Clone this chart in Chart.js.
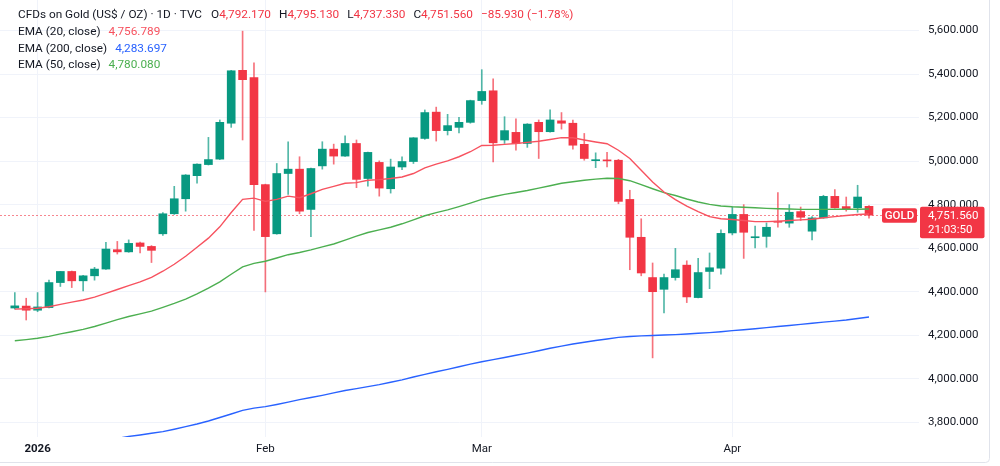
<!DOCTYPE html>
<html>
<head>
<meta charset="utf-8">
<script src="https://cdn.jsdelivr.net/npm/chart.js@4.4.1/dist/chart.umd.min.js"></script>
<style>
  html, body { margin: 0; padding: 0; background: #fff; }
  #wrap { width: 1000px; height: 466px; position: relative; }
</style>
</head>
<body>
<div id="wrap"><canvas id="grafico"></canvas></div>
<script>
// velas diarias (posicion = indice de la vela)
const openP = [4325,4334,4315,4327,4442,4493,4450,4473,4504,4593,
  4583,4624,4608,4666,4758,4827,4933,4984,5009,5174,
  5417,5384,4892,4666,4943,4963,4778,4978,5055,5023,
  5081,4920,4994,4873,4973,4998,5104,5225,5140,5155,
  5178,5278,5323,5097,5132,5081,5178,5135,5185,5174,
  5077,5002,5005,5004,4824,4650,4465,4411,4465,4522,
  4373,4493,4508,4670,4755,4648,4654,4722,4715,4768,
  4678,4739,4838,4791,4786,4792.17];
const highP = [4396,4370,4396,4453,4493,4495,4475,4512,4627,4631,
  4638,4628,4612,4763,4884,4938,4988,5109,5189,5417,
  5597,5451,4894,4989,5089,5020,4968,5089,5078,5116,
  5097,5042,5001,5009,5020,5108,5235,5248,5215,5201,
  5280,5420,5378,5204,5194,5172,5189,5235,5223,5189,
  5127,5038,5040,5008,4866,4735,4532,4481,4599,4542,
  4553,4578,4684,4789,4800,4701,4716,4855,4800,4789,
  4745,4843,4869,4835,4889,4795.13];
const lowP = [4320,4270,4308,4325,4424,4419,4404,4453,4502,4573,
  4581,4578,4534,4658,4755,4770,4899,4982,5007,5155,
  5097,4681,4399,4664,4847,4758,4653,4963,4986,5021,
  4878,4885,4839,4853,4961,4989,5100,5092,5120,5130,
  5174,5261,4996,5081,5050,5063,5012,5133,5147,5055,
  5004,4970,4973,4804,4501,4473,4096,4303,4453,4350,
  4371,4414,4481,4661,4553,4601,4604,4696,4696,4727,
  4638,4737,4784,4770,4765,4737.33];
const closeP = [4335,4315,4330,4442,4493,4450,4473,4504,4596,4583,
  4622,4608,4590,4758,4827,4936,4986,5007,5178,5415,
  5374,4892,4653,4943,4963,4770,4966,5055,5023,5081,
  4916,5040,4876,4973,4998,5107,5223,5140,5163,5178,
  5278,5320,5084,5140,5081,5170,5135,5189,5174,5073,
  5012,5005,5001,4815,4650,4486,4400,4465,4501,4376,
  4488,4510,4668,4755,4673,4652,4696,4719,4765,4742,
  4739,4838,4786,4781,4835,4751.56];

const ema20 = [4320,4322,4324,4331,4342,4352,4362,4375,4392,4410,
  4428,4445,4466,4494,4526,4563,4604,4646,4698,4764,
  4824,4830,4815,4824,4839,4832,4850,4870,4884,4898,
  4901,4912,4915,4920,4927,4943,4969,4986,5001,5020,
  5043,5072,5073,5077,5081,5086,5091,5099,5108,5107,
  5097,5088,5080,5050,5012,4958,4904,4858,4823,4793,
  4768,4745,4735,4732,4727,4722,4722,4724,4727,4730,
  4733,4740,4745,4750,4755,4756.789];
const ema50 = [4175,4180,4186,4195,4206,4216,4227,4240,4256,4272,
  4286,4298,4311,4328,4346,4366,4390,4416,4445,4480,
  4514,4530,4540,4555,4570,4580,4592,4606,4619,4637,
  4655,4672,4684,4696,4712,4730,4749,4763,4776,4791,
  4807,4824,4836,4847,4856,4865,4876,4887,4898,4905,
  4912,4917,4921,4920,4910,4892,4873,4855,4842,4826,
  4812,4801,4794,4790,4788,4786,4783,4781,4780,4778,
  4778,4778,4779,4779,4779,4780.080];
const ema200 = [null,null,null,null,null,null,null,null,3718,3726,
  3735,3742,3750,3757,3768,3780,3792,3806,3822,3838,
  3855,3865,3872,3882,3893,3904,3914,3924,3935,3946,
  3955,3964,3973,3984,3995,4008,4020,4032,4043,4055,
  4067,4078,4088,4098,4108,4118,4129,4140,4150,4160,
  4168,4176,4183,4190,4194,4197,4199,4201,4203,4206,
  4209,4212,4216,4221,4225,4230,4235,4240,4245,4250,
  4255,4260,4265,4270,4277,4283.697];

const monthLabels = ['2026', 'Feb', 'Mar', 'Apr'];
const monthIdx = [2, 22, 41, 63];
const yTicks = [3800, 4000, 4200, 4400, 4600, 4800, 5000, 5200, 5400, 5600];

const titulo = 'CFDs on Gold (US$ / OZ) · 1D · TVC';
const cambio = '\u221285.930 (\u22121.78%)';
const reloj = '21:03:50';

const VERDE = '#089981';
const ROJO = '#f23645';
const TEXTO = '#131722';
const FUENTE = 'Roboto, "Liberation Sans", sans-serif';

function fmt(v) {
  const partes = v.toFixed(3).split('.');
  return partes[0].replace(/\B(?=(\d{3})+(?!\d))/g, ',') + '.' + partes[1];
}

const last = closeP.length - 1;
const subida = closeP.map((c, i) => c >= openP[i]);

const overlay = {
  id: 'overlay',
  beforeDatasetsDraw(chart) {
    const {ctx, chartArea, scales: {y}} = chart;
    const py = Math.round(y.getPixelForValue(closeP[last])) + 0.5;
    ctx.save();
    ctx.strokeStyle = 'rgba(242,54,69,0.6)';
    ctx.lineWidth = 1;
    ctx.setLineDash([2, 2]);
    ctx.beginPath();
    ctx.moveTo(chartArea.left, py);
    ctx.lineTo(chartArea.right, py);
    ctx.stroke();
    ctx.restore();
  },
  afterDraw(chart) {
    const {ctx, scales: {y}} = chart;
    ctx.save();
    ctx.textBaseline = 'middle';
    ctx.font = '11.8px ' + FUENTE;

    // cabecera
    function tramos(x, yy, lista) {
      lista.forEach(([txt, col, gap]) => {
        ctx.fillStyle = col;
        ctx.fillText(txt, x, yy);
        x += ctx.measureText(txt).width + (gap || 0);
      });
    }
    tramos(18, 15, [
      [titulo, TEXTO, 9],
      ['O', TEXTO], [fmt(openP[last]), ROJO, 8],
      ['H', TEXTO], [fmt(highP[last]), ROJO, 8],
      ['L', TEXTO], [fmt(lowP[last]), ROJO, 8],
      ['C', TEXTO], [fmt(closeP[last]), ROJO, 8],
      [cambio, ROJO]
    ]);
    tramos(18, 32, [['EMA (20, close)', TEXTO, 8], [fmt(ema20[last]), '#f7525f']]);
    tramos(18, 49, [['EMA (200, close)', TEXTO, 8], [fmt(ema200[last]), '#2962ff']]);
    tramos(18, 65.5, [['EMA (50, close)', TEXTO, 8], [fmt(ema50[last]), '#4caf50']]);

    // etiquetas de precio
    const py = y.getPixelForValue(closeP[last]);
    ctx.fillStyle = ROJO;
    ctx.beginPath();
    ctx.roundRect(882, py - 7, 35, 14.5, 2);
    ctx.fill();
    ctx.beginPath();
    ctx.roundRect(920, py - 8.5, 64.5, 31.5, 2);
    ctx.fill();
    ctx.fillStyle = '#fff';
    ctx.textAlign = 'center';
    ctx.font = '500 11.5px ' + FUENTE;
    ctx.fillText('GOLD', 899.5, py + 0.5);
    ctx.textAlign = 'left';
    ctx.font = '11.5px ' + FUENTE;
    ctx.fillText(fmt(closeP[last]), 928, py + 0.5);
    ctx.fillText(reloj, 928, py + 14.5);

    // borde del panel
    ctx.strokeStyle = '#e0e3eb';
    ctx.lineWidth = 1;
    ctx.beginPath();
    ctx.moveTo(989.5, 0);
    ctx.lineTo(989.5, 458);
    ctx.arcTo(989.5, 462.5, 985, 462.5, 4);
    ctx.lineTo(0, 462.5);
    ctx.stroke();
    ctx.restore();
  }
};

const mechas = closeP.map((c, i) => ({x: i, y: [lowP[i], highP[i]]}));
const cuerpos = closeP.map((c, i) => ({x: i, y: [openP[i], c]}));
const linea = (arr) => arr.map((v, i) => ({x: i, y: v}));

const sinPadding = (s) => {
  s.paddingTop = 0; s.paddingBottom = 0; s.paddingLeft = 0; s.paddingRight = 0;
};

new Chart(document.getElementById('grafico'), {
  type: 'bar',
  data: {
    datasets: [
      {
        type: 'line', data: linea(ema20), borderColor: '#f7525f', borderWidth: 1.4,
        pointRadius: 0, tension: 0, order: 0
      },
      {
        type: 'line', data: linea(ema50), borderColor: '#4caf50', borderWidth: 1.4,
        pointRadius: 0, tension: 0, order: 0
      },
      {
        type: 'line', data: linea(ema200), borderColor: '#2962ff', borderWidth: 1.4,
        pointRadius: 0, tension: 0, order: 0
      },
      {
        data: cuerpos, backgroundColor: subida.map(s => s ? VERDE : ROJO),
        barThickness: 8, minBarLength: 1, grouped: false, order: 1
      },
      {
        data: mechas, backgroundColor: subida.map(s => s ? 'rgba(8,153,129,0.7)' : 'rgba(242,54,69,0.7)'),
        barThickness: 1, grouped: false, order: 2
      }
    ]
  },
  options: {
    responsive: true,
    maintainAspectRatio: false,
    animation: false,
    devicePixelRatio: 1,
    layout: {padding: 0, autoPadding: false},
    plugins: {legend: {display: false}, tooltip: {enabled: false}},
    scales: {
      x: {
        type: 'linear',
        min: -1.3,
        max: 79.39,
        offset: false,
        grid: {color: '#f0f3fa', drawTicks: false, offset: false},
        border: {display: false},
        afterBuildTicks: (s) => { s.ticks = monthIdx.map(v => ({value: v})); },
        afterFit: (s) => { s.height = 29; sinPadding(s); },
        ticks: {
          autoSkip: false,
          maxRotation: 0,
          padding: 5,
          color: TEXTO,
          font: (c) => ({family: FUENTE, size: 11.5, weight: c.tick && c.tick.value === monthIdx[0] ? 'bold' : 'normal'}),
          callback: (v, i) => monthLabels[i]
        }
      },
      y: {
        type: 'linear',
        position: 'right',
        min: 3732.5,
        max: 5740.1,
        grid: {color: '#f0f3fa', drawTicks: false},
        border: {display: false},
        afterBuildTicks: (s) => { s.ticks = yTicks.map(v => ({value: v})); },
        afterFit: (s) => { s.width = 81; sinPadding(s); },
        ticks: {
          padding: 9,
          color: TEXTO,
          font: {family: FUENTE, size: 11.5},
          callback: (v) => fmt(v)
        }
      }
    }
  },
  plugins: [overlay]
});
</script>
</body>
</html>
